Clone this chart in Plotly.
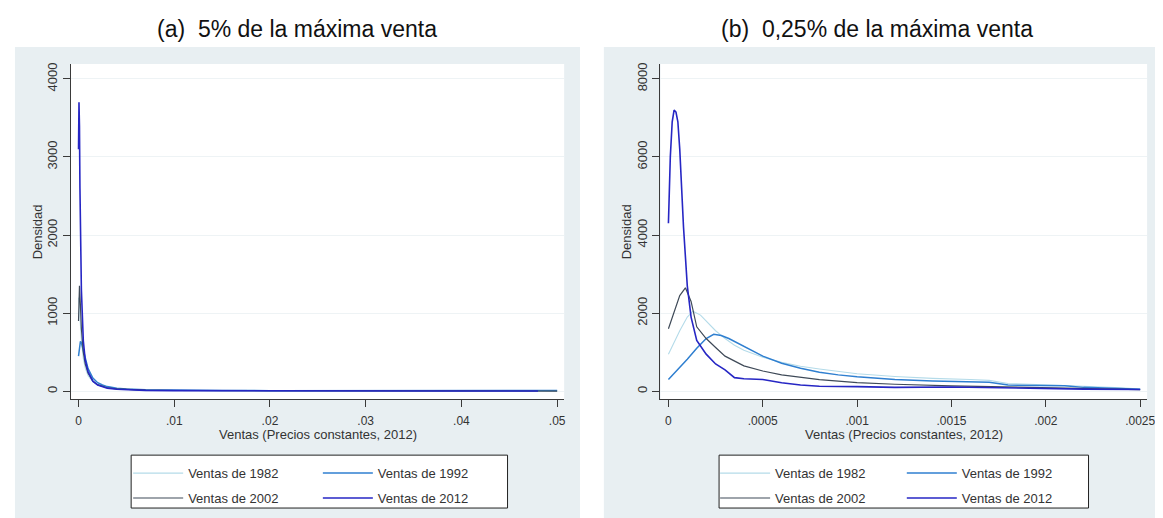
import plotly.graph_objects as go

# ---------------- data ----------------
series_names = ["Ventas de 1982", "Ventas de 1992", "Ventas de 2002", "Ventas de 2012"]
series_colors = ["#b4dbe9", "#2f7fd0", "#3f4a58", "#2626c4"]
series_widths = [1.1, 1.5, 1.2, 1.6]

# Panel (a): 5% de la máxima venta
a_1982_x = [0, 0.0001, 0.0002, 0.0003, 0.0005, 0.0007, 0.001, 0.0015, 0.002, 0.0025, 0.003, 0.004, 0.005, 0.007, 0.01, 0.015, 0.02, 0.025, 0.03, 0.035, 0.04, 0.045, 0.05]
a_1982_y = [1200, 1100, 850, 650, 420, 300, 200, 120, 80, 60, 45, 30, 22, 15, 10, 8, 6, 6, 5, 5, 4, 4, 3]
a_1992_x = [0, 0.0001, 0.0002, 0.0003, 0.0005, 0.0007, 0.001, 0.0015, 0.002, 0.0025, 0.003, 0.004, 0.005, 0.007, 0.01, 0.015, 0.02, 0.025, 0.03, 0.035, 0.04, 0.045, 0.05]
a_1992_y = [450, 550, 640, 620, 520, 400, 290, 170, 110, 80, 60, 40, 30, 20, 14, 10, 8, 7, 6, 6, 5, 5, 10]
a_2002_x = [0, 0.0001, 0.0002, 0.0003, 0.0005, 0.0007, 0.001, 0.0015, 0.002, 0.0025, 0.003, 0.004, 0.005, 0.007, 0.01, 0.015, 0.02, 0.025, 0.03, 0.035, 0.04, 0.045, 0.05]
a_2002_y = [900, 1350, 1100, 800, 500, 350, 230, 130, 85, 60, 45, 30, 22, 15, 10, 7, 6, 5, 5, 4, 4, 3, 3]
a_2012_x = [0, 0.00005, 0.0001, 0.00015, 0.0002, 0.0003, 0.0005, 0.0007, 0.001, 0.0015, 0.002, 0.0025, 0.003, 0.004, 0.005, 0.007, 0.01, 0.015, 0.02, 0.025, 0.03, 0.035, 0.04, 0.045, 0.048]
a_2012_y = [3100, 3700, 3400, 2600, 1800, 1300, 650, 400, 250, 130, 80, 55, 40, 25, 18, 12, 8, 6, 5, 6, 4, 5, 4, 4, 3]

# Panel (b): 0,25% de la máxima venta
b_1982_x = [0, 0.00003, 0.00006, 0.0001, 0.00013, 0.00017, 0.0002, 0.00025, 0.0003, 0.00035, 0.0004, 0.0005, 0.0006, 0.0007, 0.0008, 0.001, 0.0012, 0.0014, 0.0016, 0.0017, 0.0018, 0.002, 0.0022, 0.0024, 0.0025]
b_1982_y = [950, 1250, 1550, 1900, 2050, 1950, 1800, 1550, 1350, 1180, 1050, 870, 740, 640, 570, 450, 380, 330, 300, 280, 200, 170, 130, 90, 60]
b_1992_x = [0, 0.00005, 0.0001, 0.00015, 0.0002, 0.00024, 0.00028, 0.00032, 0.0004, 0.0005, 0.0006, 0.0007, 0.0008, 0.0009, 0.001, 0.0012, 0.0014, 0.0016, 0.0017, 0.0018, 0.002, 0.0021, 0.0022, 0.0024, 0.0025]
b_1992_y = [300, 550, 820, 1100, 1350, 1460, 1430, 1350, 1150, 900, 720, 590, 490, 420, 370, 300, 260, 240, 230, 160, 150, 140, 100, 70, 50]
b_2002_x = [0, 0.00003, 0.00006, 0.00009, 0.00012, 0.00015, 0.0002, 0.00025, 0.0003, 0.0004, 0.0005, 0.0006, 0.0008, 0.001, 0.0012, 0.0015, 0.0018, 0.002, 0.0022, 0.0025]
b_2002_y = [1600, 2050, 2450, 2650, 2300, 1650, 1350, 1120, 900, 650, 520, 420, 300, 220, 180, 140, 110, 90, 70, 40]
b_2012_x = [0, 0.00001, 0.00002, 0.00003, 0.00004, 0.00005, 0.00006, 0.00008, 0.0001, 0.00012, 0.00015, 0.0002, 0.00025, 0.0003, 0.00035, 0.0004, 0.0005, 0.0006, 0.0007, 0.0008, 0.001, 0.0012, 0.0015, 0.0018, 0.002, 0.0022, 0.0025]
b_2012_y = [4300, 6000, 6900, 7200, 7150, 6900, 6200, 4200, 2700, 1900, 1300, 950, 700, 550, 350, 320, 300, 220, 160, 130, 120, 100, 110, 80, 70, 55, 45]

a_xticks = [0, 0.01, 0.02, 0.03, 0.04, 0.05]
a_xticklabels = ["0", ".01", ".02", ".03", ".04", ".05"]
a_yticks = [0, 1000, 2000, 3000, 4000]
a_yticklabels = ["0", "1000", "2000", "3000", "4000"]
b_xticks = [0, 0.0005, 0.001, 0.0015, 0.002, 0.0025]
b_xticklabels = ["0", ".0005", ".001", ".0015", ".002", ".0025"]
b_yticks = [0, 2000, 4000, 6000, 8000]
b_yticklabels = ["0", "2000", "4000", "6000", "8000"]

title_a = "(a)  5% de la máxima venta"
title_b = "(b)  0,25% de la máxima venta"
x_title = "Ventas (Precios constantes, 2012)"
y_title = "Densidad"

# ---------------- layout helpers ----------------
W, H = 1163, 518
def px(x):
    return x / W
def py(y):
    return 1 - y / H

FONT = "Liberation Sans, Arial, sans-serif"
PANEL_BG = "#e8eff2"
AX_COL = "#3a3a3a"
TXT_COL = "#333333"

fig = go.Figure()

a_data = [(a_1982_x, a_1982_y), (a_1992_x, a_1992_y), (a_2002_x, a_2002_y), (a_2012_x, a_2012_y)]
b_data = [(b_1982_x, b_1982_y), (b_1992_x, b_1992_y), (b_2002_x, b_2002_y), (b_2012_x, b_2012_y)]
col_legend_a = ["legend", "legend2", "legend", "legend2"]
col_legend_b = ["legend3", "legend4", "legend3", "legend4"]

for i, (xs, ys) in enumerate(a_data):
    fig.add_trace(go.Scatter(x=xs, y=ys, mode="lines", name=series_names[i],
                             line=dict(color=series_colors[i], width=series_widths[i]),
                             xaxis="x", yaxis="y", legend=col_legend_a[i], legendgroup="a%d" % i))
for i, (xs, ys) in enumerate(b_data):
    fig.add_trace(go.Scatter(x=xs, y=ys, mode="lines", name=series_names[i],
                             line=dict(color=series_colors[i], width=series_widths[i]),
                             xaxis="x2", yaxis="y2", legend=col_legend_b[i], legendgroup="b%d" % i))

# plot area pixel boxes
A_L, A_R, TOP, BOT = 63, 560, 55, 391
B_L, B_R = 657, 1147

axis_common = dict(showline=True, linecolor=AX_COL, linewidth=1, ticks="outside",
                   ticklen=7, tickcolor=AX_COL, zeroline=False)
xfont = dict(family=FONT, size=12, color=TXT_COL)
yfont = dict(family=FONT, size=13, color=TXT_COL)

fig.update_layout(
    width=W, height=H, margin=dict(l=0, r=0, t=0, b=0),
    paper_bgcolor="white", plot_bgcolor="rgba(0,0,0,0)",
    xaxis=dict(domain=[px(A_L), px(A_R)], anchor="y", range=[-0.00083, 0.05073],
               tickvals=a_xticks, ticktext=a_xticklabels, showgrid=False,
               tickfont=xfont, ticklabelstandoff=3, **axis_common),
    yaxis=dict(domain=[py(BOT), py(TOP)], anchor="x", range=[-102, 4192],
               tickvals=a_yticks, ticktext=a_yticklabels, tickangle=-90, tickfont=yfont,
               showgrid=True, gridcolor="#eef3f5", gridwidth=1, **axis_common),
    xaxis2=dict(domain=[px(B_L), px(B_R)], anchor="y2", range=[-0.0000421, 0.0025368],
                tickvals=b_xticks, ticktext=b_xticklabels, showgrid=False,
                tickfont=xfont, ticklabelstandoff=3, **axis_common),
    yaxis2=dict(domain=[py(BOT), py(TOP)], anchor="x2", range=[-204, 8383],
                tickvals=b_yticks, ticktext=b_yticklabels, tickangle=-90, tickfont=yfont,
                showgrid=True, gridcolor="#eef3f5", gridwidth=1, **axis_common),
    showlegend=True,
)

leg_common = dict(orientation="v", bgcolor="rgba(0,0,0,0)", borderwidth=0,
                  font=dict(family=FONT, size=13, color=TXT_COL),
                  xanchor="left", yanchor="top", tracegroupgap=5, itemwidth=50,
                  itemclick=False, itemdoubleclick=False)
LEG_TOP = 450
fig.update_layout(
    legend=dict(x=px(121), y=py(LEG_TOP), **leg_common),
    legend2=dict(x=px(312), y=py(LEG_TOP), **leg_common),
    legend3=dict(x=px(712), y=py(LEG_TOP), **leg_common),
    legend4=dict(x=px(900), y=py(LEG_TOP), **leg_common),
)

shapes = []
# panel backgrounds
shapes.append(dict(type="rect", xref="paper", yref="paper", x0=px(7), x1=px(576), y0=py(518), y1=py(38),
                   fillcolor=PANEL_BG, line=dict(width=0), layer="below"))
shapes.append(dict(type="rect", xref="paper", yref="paper", x0=px(600), x1=px(1163), y0=py(518), y1=py(38),
                   fillcolor=PANEL_BG, line=dict(width=0), layer="below"))
# white plot regions
shapes.append(dict(type="rect", xref="paper", yref="paper", x0=px(A_L), x1=px(A_R), y0=py(BOT), y1=py(TOP),
                   fillcolor="white", line=dict(width=0), layer="below"))
shapes.append(dict(type="rect", xref="paper", yref="paper", x0=px(B_L), x1=px(B_R), y0=py(BOT), y1=py(TOP),
                   fillcolor="white", line=dict(width=0), layer="below"))
# legend boxes
shapes.append(dict(type="rect", xref="paper", yref="paper", x0=px(124), x1=px(503), y0=py(500), y1=py(447),
                   fillcolor="white", line=dict(width=1, color="#222222"), layer="below"))
shapes.append(dict(type="rect", xref="paper", yref="paper", x0=px(716), x1=px(1088), y0=py(500), y1=py(447),
                   fillcolor="white", line=dict(width=1, color="#222222"), layer="below"))
fig.update_layout(shapes=shapes)

ann = []
ann.append(dict(text=title_a, x=px(291), y=py(20), xref="paper", yref="paper", showarrow=False,
                font=dict(family=FONT, size=23, color="#111111"), xanchor="center", yanchor="middle"))
ann.append(dict(text=title_b, x=px(875), y=py(20), xref="paper", yref="paper", showarrow=False,
                font=dict(family=FONT, size=23, color="#111111"), xanchor="center", yanchor="middle"))
ann.append(dict(text=x_title, x=px(312), y=py(426), xref="paper", yref="paper", showarrow=False,
                font=dict(family=FONT, size=13, color=TXT_COL), xanchor="center", yanchor="middle"))
ann.append(dict(text=x_title, x=px(902), y=py(426), xref="paper", yref="paper", showarrow=False,
                font=dict(family=FONT, size=13, color=TXT_COL), xanchor="center", yanchor="middle"))
ann.append(dict(text=y_title, x=px(30), y=py(223), xref="paper", yref="paper", showarrow=False, textangle=-90,
                font=dict(family=FONT, size=13, color=TXT_COL), xanchor="center", yanchor="middle"))
ann.append(dict(text=y_title, x=px(623), y=py(223), xref="paper", yref="paper", showarrow=False, textangle=-90,
                font=dict(family=FONT, size=13, color=TXT_COL), xanchor="center", yanchor="middle"))
fig.update_layout(annotations=ann)

fig.write_html("out.html")
